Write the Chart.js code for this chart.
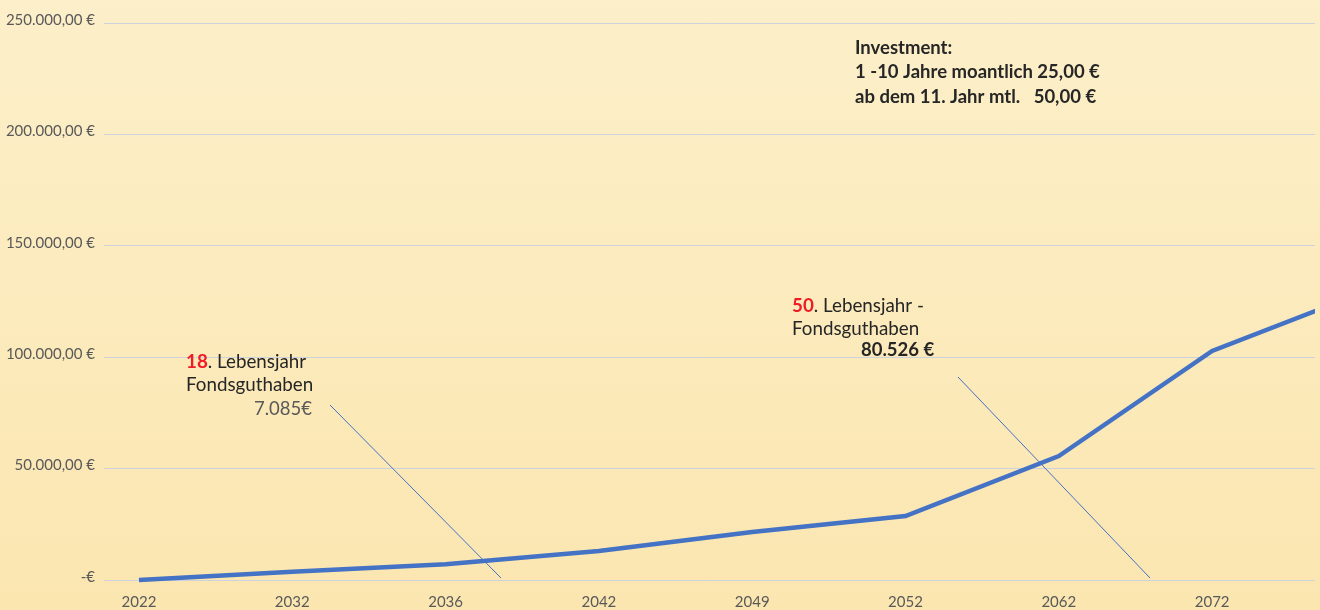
<!DOCTYPE html>
<html>
<head>
<meta charset="utf-8">
<script src="https://cdn.jsdelivr.net/npm/chart.js@4.4.1/dist/chart.umd.min.js"></script>
<style>
  html, body { margin: 0; padding: 0; overflow: hidden; background: #FCEEC6; }
  #wrap { width: 1320px; height: 610px; position: relative; }
  canvas { display: block; }
</style>
</head>
<body>
<div id="wrap"><canvas id="c" width="1320" height="610"></canvas></div>
<script>
// ---- data ----
const years = ['2022', '2032', '2036', '2042', '2049', '2052', '2062', '2072', ''];
const fundValues = [0, 3700, 7085, 13000, 21500, 28700, 55650, 102800, 129400];
const yTicks = [0, 50000, 100000, 150000, 200000, 250000];
const investmentLines = ['Investment:', '1 -10 Jahre moantlich 25,00 €', 'ab dem 11. Jahr mtl.   50,00 €'];

const FONT = 'Lato, "Open Sans", sans-serif';
const TICK_COLOR = '#595959';
const TEXT_COLOR = '#262626';
const RED = '#EE1C25';
const LINE_BLUE = '#4472C4';

function euro(v) {
  if (v === 0) return '-€';
  const s = Math.round(v).toString().replace(/\B(?=(\d{3})+(?!\d))/g, '.');
  return s + ',00 €';
}

const bgPlugin = {
  id: 'bg',
  beforeDraw(chart) {
    const { ctx, width, height } = chart;
    const g = ctx.createLinearGradient(0, 0, 0, height);
    g.addColorStop(0, '#FCEFC9');
    g.addColorStop(1, '#FBE6B0');
    ctx.save();
    ctx.fillStyle = g;
    ctx.fillRect(0, 0, width, height);
    ctx.restore();
  }
};

function richLine(ctx, x, y, parts) {
  let cx = x;
  for (const p of parts) {
    ctx.font = p.font;
    ctx.fillStyle = p.color;
    ctx.fillText(p.text, cx, y);
    cx += ctx.measureText(p.text).width;
  }
}

const annoPlugin = {
  id: 'anno',
  afterDatasetsDraw(chart) {
    const { ctx } = chart;
    ctx.save();
    // leader lines
    ctx.strokeStyle = LINE_BLUE;
    ctx.lineWidth = 1;
    ctx.beginPath();
    ctx.moveTo(330, 405); ctx.lineTo(501, 578);
    ctx.moveTo(958, 377); ctx.lineTo(1150, 578);
    ctx.stroke();

    ctx.textBaseline = 'middle';
    ctx.textAlign = 'left';
    const reg = '18.8px ' + FONT;
    const bold = 'bold 18.8px ' + FONT;
    // 18. Lebensjahr
    richLine(ctx, 186, 362, [
      { text: '18', font: bold, color: RED },
      { text: '. Lebensjahr', font: reg, color: TEXT_COLOR }
    ]);
    richLine(ctx, 186, 385, [{ text: 'Fondsguthaben', font: reg, color: TEXT_COLOR }]);
    ctx.textAlign = 'right';
    ctx.font = '18.5px ' + FONT;
    ctx.fillStyle = TICK_COLOR;
    ctx.fillText('7.085€', 312, 409);

    // 50. Lebensjahr
    ctx.textAlign = 'left';
    richLine(ctx, 792, 306, [
      { text: '50', font: bold, color: RED },
      { text: '. Lebensjahr -', font: reg, color: TEXT_COLOR }
    ]);
    richLine(ctx, 792, 329, [{ text: 'Fondsguthaben', font: reg, color: TEXT_COLOR }]);
    richLine(ctx, 861, 350, [{ text: '80.526 €', font: 'bold 18.5px ' + FONT, color: TEXT_COLOR }]);

    // Investment box
    ctx.font = 'bold 18.5px ' + FONT;
    ctx.fillStyle = TEXT_COLOR;
    investmentLines.forEach((t, i) => ctx.fillText(t, 855, 48 + i * 24.5));
    ctx.restore();
  }
};

new Chart(document.getElementById('c'), {
  type: 'line',
  data: {
    datasets: [{
      data: fundValues.map((v, i) => ({ x: i, y: v })),
      borderColor: LINE_BLUE,
      backgroundColor: LINE_BLUE,
      borderWidth: 4.5,
      pointRadius: 0,
      tension: 0,
      clip: { left: 10, top: 10, bottom: 10, right: 0 }
    }]
  },
  options: {
    responsive: false,
    animation: false,
    events: [],
    layout: { padding: { top: 23, right: 5, left: 0, bottom: 0 } },
    plugins: { legend: { display: false }, tooltip: { enabled: false } },
    scales: {
      x: {
        type: 'linear',
        min: -0.228,
        max: 7.671,
        grid: { display: false, drawTicks: false },
        border: { display: false },
        afterFit(s) { s.height = 30; },
        afterBuildTicks(s) {
          s.ticks = years.map((_, i) => ({ value: i })).filter(t => t.value <= s.max && years[t.value] !== '');
        },
        ticks: {
          autoSkip: false,
          maxRotation: 0,
          padding: 13,
          color: TICK_COLOR,
          font: { family: FONT, size: 15 },
          callback: (v) => years[v] ?? ''
        }
      },
      y: {
        min: 0,
        max: 250000,
        afterFit(s) { s.width = 104; },
        afterBuildTicks(s) { s.ticks = yTicks.map(v => ({ value: v })); },
        grid: { color: '#CDD2DC', lineWidth: 1, drawTicks: false },
        border: { display: false },
        ticks: {
          padding: 9,
          labelOffset: -3,
          color: TICK_COLOR,
          font: { family: FONT, size: 15 },
          callback: (v) => euro(v)
        }
      }
    }
  },
  plugins: [bgPlugin, annoPlugin]
});
</script>
</body>
</html>
